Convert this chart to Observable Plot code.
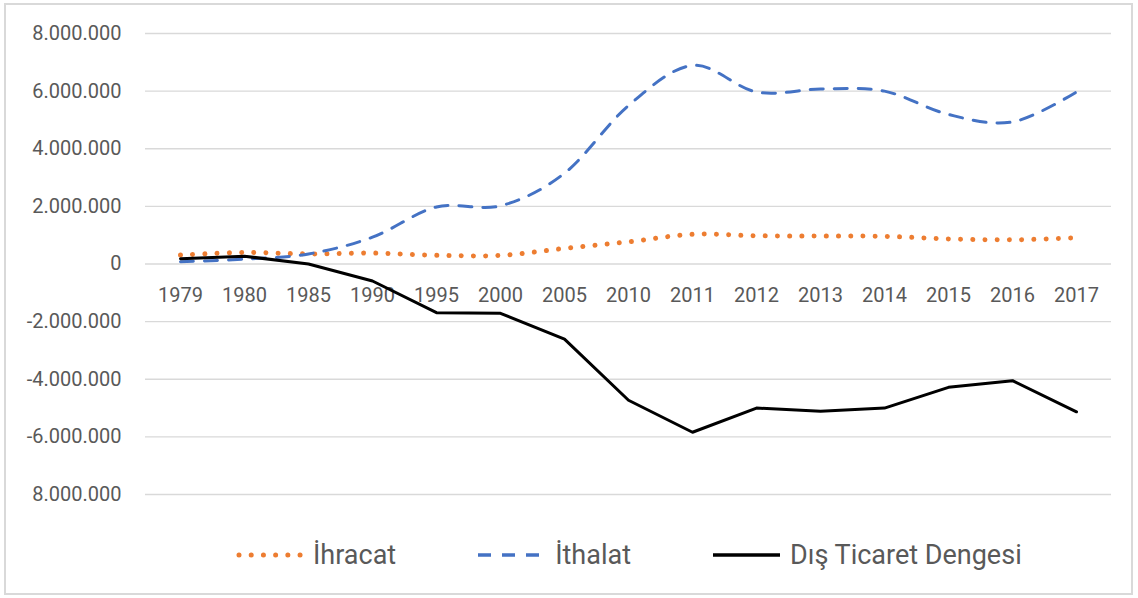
<!DOCTYPE html>
<html>
<head>
<meta charset="utf-8">
<script src="https://cdn.jsdelivr.net/npm/d3@7"></script>
<script src="https://cdn.jsdelivr.net/npm/@observablehq/plot@0.6"></script>
<style>
  html, body { margin: 0; padding: 0; background: #fff; }
  #wrap { position: relative; width: 1138px; height: 598px; overflow: hidden; font-family: Roboto, sans-serif; }
  #frame { position: absolute; left: 4px; top: 3px; width: 1125px; height: 588px; border: 2px solid #d9d9d9; box-sizing: content-box; }
  #chart { position: absolute; left: 0; top: 0; }
  #legend { position: absolute; left: 236px; top: 535px; height: 40px; display: flex; align-items: center; gap: 82px; color: #595959; font-size: 27px; }
  #legend .item { display: flex; align-items: center; gap: 10px; }
  #legend svg { display: block; }
</style>
</head>
<body>
<div id="wrap">
  <div id="frame"></div>
  <div id="chart"></div>
  <div id="legend"></div>
</div>
<script>
const years = ["1979","1980","1985","1990","1995","2000","2005","2010","2011","2012","2013","2014","2015","2016","2017"];
const ihracat = [310000, 400000, 350000, 380000, 300000, 300000, 540000, 770000, 1030000, 980000, 970000, 960000, 870000, 840000, 910000];
const ithalat = [80000, 170000, 350000, 930000, 1980000, 2020000, 3150000, 5500000, 6890000, 5970000, 6070000, 6000000, 5190000, 4930000, 5970000];
const denge = [180000, 270000, 0, -590000, -1690000, -1710000, -2610000, -4730000, -5840000, -5000000, -5110000, -5000000, -4280000, -4050000, -5130000];
const yTicks = [-8000000, -6000000, -4000000, -2000000, 0, 2000000, 4000000, 6000000, 8000000];
const yTickLabels = ["8.000.000", "-6.000.000", "-4.000.000", "-2.000.000", "0", "2.000.000", "4.000.000", "6.000.000", "8.000.000"];
const seriesNames = ["İhracat", "İthalat", "Dış Ticaret Dengesi"];
const seriesColors = ["#ED7D31", "#4472C4", "#000000"];

const rows = years.map((yr, i) => ({year: yr, exp: ihracat[i], imp: ithalat[i], bal: denge[i]}));
const labelMap = new Map(yTicks.map((t, i) => [t, yTickLabels[i]]));
const smooth = d3.curveCatmullRom.alpha(0);

const chart = Plot.plot({
  width: 1138,
  height: 520,
  marginLeft: 145,
  marginRight: 27,
  marginTop: 33,
  marginBottom: 26,
  style: {fontFamily: "Roboto, sans-serif", fontSize: "20px", color: "#595959", background: "transparent", overflow: "visible"},
  x: {type: "point", domain: years, padding: 0.5, axis: null},
  y: {domain: [-8000000, 8000000], axis: null},
  marks: [
    Plot.gridY(yTicks, {stroke: "#d9d9d9", strokeOpacity: 1, strokeWidth: 1.4}),
    Plot.axisY(yTicks, {tickSize: 0, tickPadding: 24, tickFormat: d => labelMap.get(d), label: null, fontSize: 20, fill: "#595959"}),
    Plot.text(years, {x: d => d, y: () => 0, dy: 32, text: d => d, fontSize: 20, fill: "#595959", lineAnchor: "middle"}),
    Plot.line(rows, {x: "year", y: "exp", stroke: seriesColors[0], strokeWidth: 5, strokeDasharray: "0.01,12.2", strokeLinecap: "round", curve: smooth}),
    Plot.line(rows, {x: "year", y: "imp", stroke: seriesColors[1], strokeWidth: 3, strokeDasharray: "13,11", curve: smooth}),
    Plot.line(rows, {x: "year", y: "bal", stroke: seriesColors[2], strokeWidth: 3, strokeLinejoin: "round"})
  ]
});
document.getElementById("chart").appendChild(chart);

const dashes = [
  {dash: "0.01,12.2", width: 5, cap: "round"},
  {dash: "13,11", width: 3.5, cap: "butt"},
  {dash: "none", width: 3.5, cap: "butt"}
];
const legend = document.getElementById("legend");
seriesNames.forEach((name, i) => {
  const item = document.createElement("div");
  item.className = "item";
  const w = 67;
  const d = dashes[i];
  const x0 = d.cap === "round" ? 3 : 0;
  item.innerHTML = `<svg width="${w}" height="12"><line x1="${x0}" y1="6" x2="${w}" y2="6" stroke="${seriesColors[i]}" stroke-width="${d.width}" stroke-dasharray="${d.dash}" stroke-linecap="${d.cap}"/></svg><span>${name}</span>`;
  legend.appendChild(item);
});
</script>
</body>
</html>
